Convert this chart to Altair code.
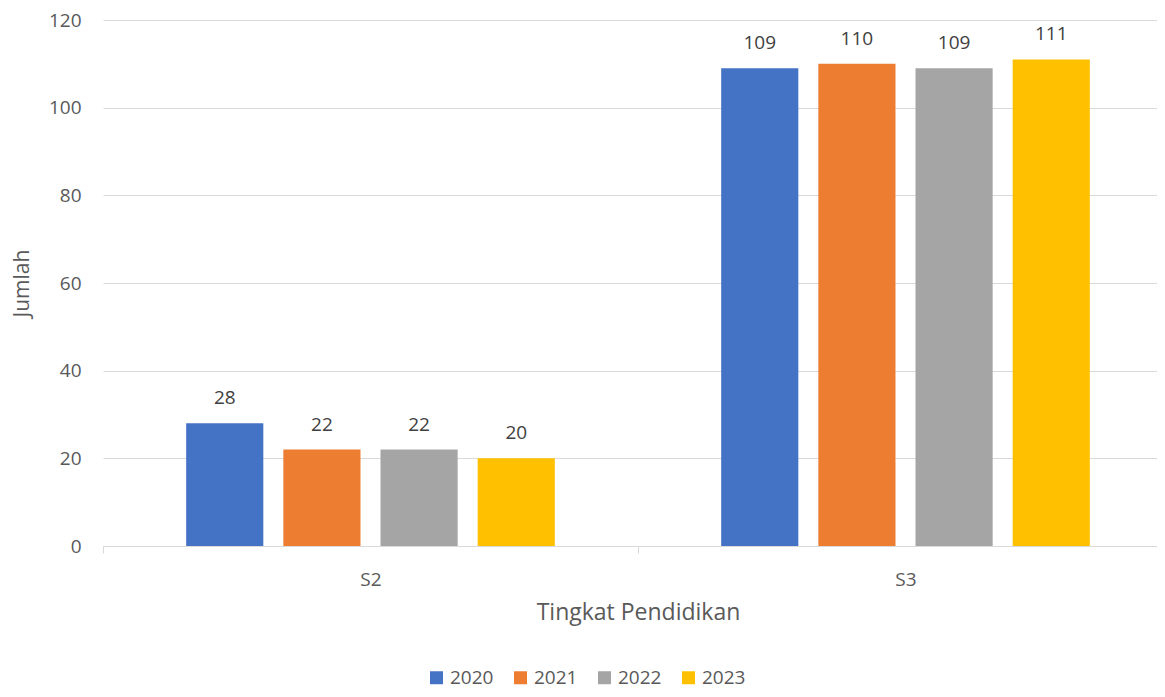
import altair as alt
import pandas as pd

categories = ["S2", "S3"]
years = ["2020", "2021", "2022", "2023"]
values_s2 = [28, 22, 22, 20]
values_s3 = [109, 110, 109, 111]
colors = ["#4472C4", "#ED7D31", "#A5A5A5", "#FFC000"]

rows = []
for cat, vals in zip(categories, [values_s2, values_s3]):
    for y, v in zip(years, vals):
        rows.append({"Tingkat": cat, "Tahun": y, "Jumlah": v})
df = pd.DataFrame(rows)

FONT = "Open Sans"

x = alt.X("Tingkat:N", title="Tingkat Pendidikan",
          scale=alt.Scale(paddingInner=0, paddingOuter=0, range=[0, 1070]),
          axis=alt.Axis(labelAngle=0, tickBand="extent", ticks=True, tickSize=7,
                        tickColor="#d9d9d9", domainColor="#d9d9d9", labelPadding=17,
                        titlePadding=12, labelFontSize=19, titleFontSize=23,
                        labelColor="#595959", titleColor="#595959", grid=False,
                        labelFont=FONT, titleFont=FONT, titleFontWeight="normal"))
xo = alt.XOffset("Tahun:N", scale=alt.Scale(paddingInner=0.206, paddingOuter=0.856))
y = alt.Y("Jumlah:Q", title="Jumlah",
          scale=alt.Scale(domain=[0, 120]),
          axis=alt.Axis(values=[0, 20, 40, 60, 80, 100, 120], ticks=False, domain=False,
                        gridColor="#d9d9d9", labelPadding=22, titlePadding=16,
                        labelFontSize=19, titleFontSize=21, labelColor="#595959",
                        titleColor="#595959", labelFont=FONT, titleFont=FONT,
                        titleFontWeight="normal"))
color = alt.Color("Tahun:N", scale=alt.Scale(domain=years, range=colors),
                  legend=alt.Legend(title=None, orient="none", direction="horizontal",
                                    legendX=324, legendY=648, symbolType="square",
                                    symbolSize=169, symbolStrokeWidth=0,
                                    labelFontSize=19, labelColor="#595959",
                                    labelFont=FONT, columnPadding=17, labelOffset=4))

bars = alt.Chart(df).mark_bar().encode(x=x, xOffset=xo, y=y, color=color)
labels = alt.Chart(df).mark_text(baseline="middle", dy=-25, fontSize=19,
                                 color="#404040", font=FONT).encode(
    x=x, xOffset=xo, y=y, text=alt.Text("Jumlah:Q"))

chart = (bars + labels).properties(
    width=1054, height=526,
    autosize=alt.AutoSizeParams(type="none"),
    padding={"left": 95, "top": 12, "right": 0, "bottom": 143},
).configure_view(stroke=None)

chart.save("out.html", embed_options={"renderer": "svg", "actions": False})
